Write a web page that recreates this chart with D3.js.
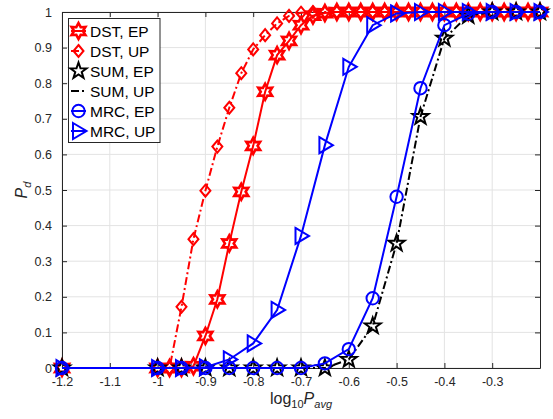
<!DOCTYPE html>
<html>
<head>
<meta charset="utf-8">
<script src="https://cdn.jsdelivr.net/npm/d3@7"></script>
<style>
  html, body { margin: 0; padding: 0; background: #fff; }
  svg { display: block; font-family: "Liberation Sans", Arial, Helvetica, sans-serif; }
</style>
</head>
<body>
<svg id="chart" width="553" height="419"></svg>
<script>
// Detection probability vs. average power (log10), three detectors, EP / UP allocations.
const xFine = [-1.2, -1.0, -0.975, -0.95, -0.925, -0.9, -0.875, -0.85, -0.825, -0.8, -0.775, -0.75,
  -0.725, -0.7, -0.675, -0.65, -0.625, -0.6, -0.575, -0.55, -0.525, -0.5, -0.475, -0.45, -0.425,
  -0.4, -0.375, -0.35, -0.325, -0.3, -0.275, -0.25, -0.225, -0.2];
const xCoarse = [-1.2, -1.0, -0.95, -0.9, -0.85, -0.8, -0.75, -0.7, -0.65, -0.6, -0.55, -0.5,
  -0.45, -0.4, -0.35, -0.3, -0.25, -0.2];

const dstEP = [0, 0, 0, 0, 0.005, 0.09, 0.193, 0.35, 0.495, 0.624, 0.776, 0.879,
  0.919, 0.963, 0.99, 0.997, 1, 1, 1, 1, 1, 1, 1, 1, 1, 1, 1, 1, 1, 1, 1, 1, 1, 1];
const dstUP = [0, 0, 0, 0.172, 0.362, 0.498, 0.622, 0.731, 0.828, 0.895, 0.935, 0.968,
  0.989, 0.998, 1, 1, 1, 1, 1, 1, 1, 1, 1, 1, 1, 1, 1, 1, 1, 1, 1, 1, 1, 1];
const sumEP = [0, 0, 0, 0, 0, 0, 0, 0, 0, 0.024, 0.118, 0.35, 0.706, 0.926, 0.99, 1, 1, 1];
const sumUP = [0, 0, 0, 0, 0, 0, 0, 0, 0, 0.024, 0.118, 0.35, 0.706, 0.926, 0.99, 1, 1, 1];
const mrcEP = [0, 0, 0, 0, 0, 0, 0, 0, 0.013, 0.053, 0.196, 0.481, 0.786, 0.963, 0.995, 1, 1, 1];
const mrcUP = [0, 0, 0, 0.002, 0.024, 0.069, 0.163, 0.371, 0.626, 0.846, 0.963, 0.996, 1, 1, 1, 1, 1, 1];

const xTicks = [-1.2, -1.1, -1.0, -0.9, -0.8, -0.7, -0.6, -0.5, -0.4, -0.3];
const xTickLabels = ["-1.2", "-1.1", "-1", "-0.9", "-0.8", "-0.7", "-0.6", "-0.5", "-0.4", "-0.3"];
const yTicks = [0, 0.1, 0.2, 0.3, 0.4, 0.5, 0.6, 0.7, 0.8, 0.9, 1];
const yTickLabels = ["0", "0.1", "0.2", "0.3", "0.4", "0.5", "0.6", "0.7", "0.8", "0.9", "1"];

const legendLabels = ["DST, EP", "DST, UP", "SUM, EP", "SUM, UP", "MRC, EP", "MRC, UP"];

const svg = d3.select("#chart");
const plotL = 62, plotR = 540, plotT = 12, plotB = 368;
const x = d3.scaleLinear().domain([-1.2, -0.2]).range([plotL, plotR]);
const y = d3.scaleLinear().domain([0, 1]).range([plotB, plotT]);
const axisCol = "#262626";

// marker shapes
function starPath(n, rOut, rIn) {
  const pts = [];
  for (let i = 0; i < 2 * n; i++) {
    const a = -Math.PI / 2 + i * Math.PI / n;
    const r = i % 2 === 0 ? rOut : rIn;
    pts.push([r * Math.cos(a), r * Math.sin(a)]);
  }
  return "M" + pts.map(p => p[0].toFixed(2) + "," + p[1].toFixed(2)).join("L") + "Z";
}
const hexagram = starPath(6, 8, 4.4);
const pentagram = starPath(5, 8.5, 3.4);
const diamond = "M0,-6L5,0L0,6L-5,0Z";
const circle = d3.symbol().type(d3.symbolCircle).size(Math.PI * 6.2 * 6.2)();
const triRight = "M-5.5,-8L8,0L-5.5,8Z";

const series = [
  { xs: xFine, ys: dstEP, color: "#ff0000", dash: null, line: true, marker: hexagram, mw: 2.6 },
  { xs: xFine, ys: dstUP, color: "#ff0000", dash: "8,3,2,3", line: true, marker: diamond, mw: 2 },
  { xs: xCoarse, ys: sumEP, color: "#000000", dash: null, line: false, marker: pentagram, mw: 2 },
  { xs: xCoarse, ys: sumUP, color: "#000000", dash: "8,3,2,3", line: true, marker: null, mw: 2 },
  { xs: xCoarse, ys: mrcEP, color: "#0000ff", dash: null, line: true, marker: circle, mw: 2 },
  { xs: xCoarse, ys: mrcUP, color: "#0000ff", dash: null, line: true, marker: triRight, mw: 2 }
];

// grid
const grid = svg.append("g");
grid.selectAll("line.gx").data(xTicks).join("line")
  .attr("x1", d => x(d)).attr("x2", d => x(d)).attr("y1", plotT).attr("y2", plotB)
  .attr("stroke", "#e3e3e3").attr("stroke-width", 1);
grid.selectAll("line.gy").data(yTicks).join("line")
  .attr("x1", plotL).attr("x2", plotR).attr("y1", d => y(d)).attr("y2", d => y(d))
  .attr("stroke", "#e3e3e3").attr("stroke-width", 1);

// axes (box with inward ticks)
const tickLen = 5;
const xAxisB = d3.axisBottom(x).tickValues(xTicks).tickSizeInner(-tickLen).tickSizeOuter(0).tickPadding(9)
  .tickFormat((d, i) => xTickLabels[i]);
const xAxisT = d3.axisTop(x).tickValues(xTicks).tickSizeInner(-tickLen).tickSizeOuter(0).tickFormat("");
const yAxisL = d3.axisLeft(y).tickValues(yTicks).tickSizeInner(-tickLen).tickSizeOuter(0).tickPadding(10)
  .tickFormat((d, i) => yTickLabels[i]);
const yAxisR = d3.axisRight(y).tickValues(yTicks).tickSizeInner(-tickLen).tickSizeOuter(0).tickFormat("");

function styleAxis(g) {
  g.select(".domain").attr("stroke", axisCol).attr("stroke-width", 1);
  g.selectAll(".tick line").attr("stroke", axisCol);
  g.selectAll(".tick text").attr("fill", axisCol).attr("font-size", "12.5px")
    .attr("font-family", "'Liberation Sans', Arial, sans-serif");
}
svg.append("g").attr("transform", `translate(0,${plotB})`).call(xAxisB).call(styleAxis);
svg.append("g").attr("transform", `translate(0,${plotT})`).call(xAxisT).call(styleAxis);
svg.append("g").attr("transform", `translate(${plotL},0)`).call(yAxisL).call(styleAxis);
svg.append("g").attr("transform", `translate(${plotR},0)`).call(yAxisR).call(styleAxis);

// series
const lineGen = d3.line().x(d => x(d[0])).y(d => y(d[1]));
series.forEach(s => {
  const pts = s.xs.map((v, i) => [v, s.ys[i]]);
  const g = svg.append("g");
  if (s.line) {
    g.append("path").attr("d", lineGen(pts)).attr("fill", "none")
      .attr("stroke", s.color).attr("stroke-width", 2)
      .attr("stroke-dasharray", s.dash);
  }
  if (s.marker) {
    g.selectAll("path.m").data(pts).join("path").attr("class", "m")
      .attr("d", s.marker)
      .attr("transform", d => `translate(${x(d[0])},${y(d[1])})`)
      .attr("fill", "none").attr("stroke", s.color).attr("stroke-width", s.mw)
      .attr("stroke-linejoin", "miter");
  }
});

// legend
const lg = svg.append("g");
lg.append("rect").attr("x", 68.5).attr("y", 18.5).attr("width", 91.5).attr("height", 124)
  .attr("fill", "#fff").attr("stroke", axisCol).attr("stroke-width", 1);
series.forEach((s, i) => {
  const cy = 31 + i * 20;
  if (s.line) {
    lg.append("line").attr("x1", 71).attr("x2", 86).attr("y1", cy).attr("y2", cy)
      .attr("stroke", s.color).attr("stroke-width", 2).attr("stroke-dasharray", s.dash);
  }
  if (s.marker) {
    lg.append("path").attr("d", s.marker).attr("transform", `translate(78.5,${cy})`)
      .attr("fill", "none").attr("stroke", s.color).attr("stroke-width", s.mw);
  }
  lg.append("text").attr("x", 90).attr("y", cy + 5.5).attr("font-size", "15.5px")
    .attr("fill", "#000").text(legendLabels[i]);
});

// axis labels
const xl = svg.append("text").attr("x", (plotL + plotR) / 2).attr("y", 404)
  .attr("text-anchor", "middle").attr("font-size", "16px").attr("fill", axisCol);
xl.append("tspan").text("log");
xl.append("tspan").attr("font-size", "11px").attr("dy", 4).text("10");
xl.append("tspan").attr("font-style", "italic").attr("dy", -4).text("P");
xl.append("tspan").attr("font-style", "italic").attr("font-size", "11px").attr("dy", 4).text("avg");

const yl = svg.append("text").attr("transform", `translate(27,${(plotT + plotB) / 2}) rotate(-90)`)
  .attr("text-anchor", "middle").attr("font-size", "16px").attr("fill", axisCol);
yl.append("tspan").attr("font-style", "italic").text("P");
yl.append("tspan").attr("font-style", "italic").attr("font-size", "11px").attr("dy", 4).text("d");
</script>
</body>
</html>
